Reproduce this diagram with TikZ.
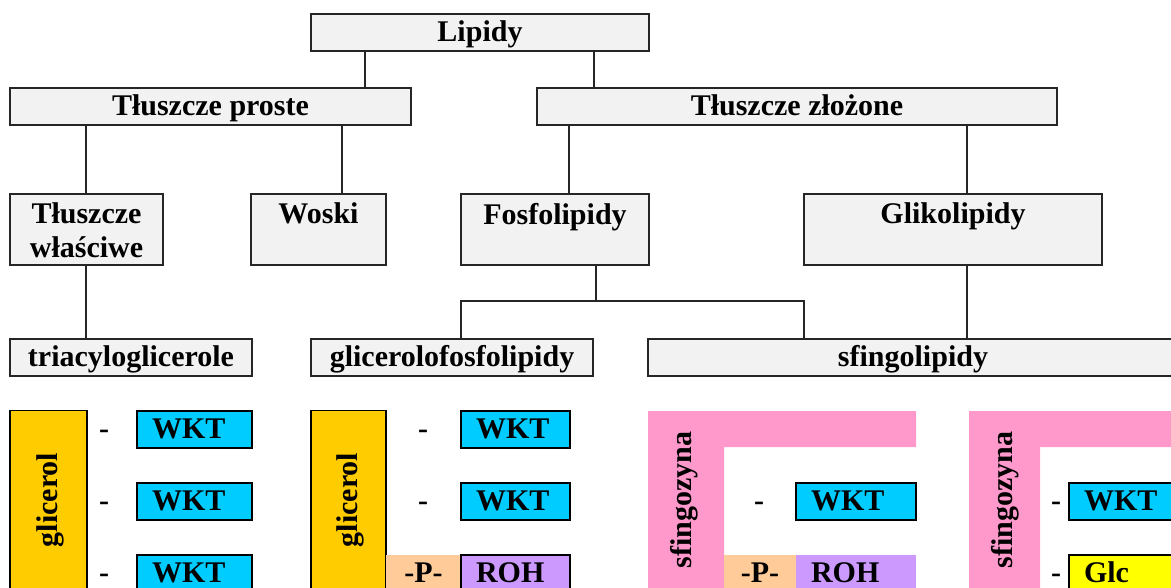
\documentclass[tikz,border=0pt]{standalone}
\usepackage{fontspec}
\setmainfont{Liberation Serif}
\definecolor{boxgray}{RGB}{242,242,242}
\definecolor{glic}{RGB}{255,204,0}
\definecolor{wkt}{RGB}{0,204,255}
\definecolor{pgrp}{RGB}{255,204,153}
\definecolor{roh}{RGB}{204,153,255}
\definecolor{sfing}{RGB}{255,153,204}
\definecolor{glc}{RGB}{255,255,0}
\begin{document}
\begin{tikzpicture}[x=1pt,y=-1pt,
  every node/.style={font=\bfseries\fontsize{30}{34}\selectfont, inner sep=0pt},
  hbox/.style={draw=black!85, fill=boxgray, line width=1.5pt, minimum height=37pt, text height=22.5pt, text depth=4.5pt},
  tbox/.style={draw=black!85, fill=boxgray, line width=1.5pt, minimum height=71pt},
  ttext/.style={anchor=north, align=center, inner ysep=9.5pt},
  conn/.style={line width=1.5pt, black!85},
  cbox/.style={draw=black, line width=1.3pt, minimum height=37pt, inner xsep=15pt, align=left, text height=22.5pt, text depth=4.5pt},
  pbox/.style={minimum height=37pt, text height=22.5pt, text depth=4.5pt},
  vbar/.style={draw=black, line width=1.3pt, rotate=90, minimum width=179pt, text height=22.5pt, text depth=4.5pt},
  vtext/.style={rotate=90, text height=22.5pt, text depth=4.5pt},
  dashlbl/.style={text height=22.5pt, text depth=4.5pt}
]
\useasboundingbox (0,0) rectangle (1171,588);
\clip (0,0) rectangle (1171,588);

% header boxes
\node[hbox, minimum width=338pt] (lipidy) at (480,32.5) {Lipidy};
\node[hbox, minimum width=401pt] (tp) at (210.5,106.5) {Tłuszcze proste};
\node[hbox, minimum width=520pt] (tz) at (797,106.5) {Tłuszcze złożone};

\node[tbox, minimum width=153pt] (tw) at (86.5,229.5) {};
\node[ttext] (twt) at (tw.north) {Tłuszcze\\właściwe};
\node[tbox, minimum width=135pt] (woski) at (318.5,229.5) {};
\node[ttext] (woskit) at (woski.north) {Woski};
\node[tbox, minimum width=188pt] (fosfo) at (555,229.5) {};
\node[ttext] (fosfot) at (fosfo.north) {Fosfolipidy};
\node[tbox, minimum width=298pt] (gliko) at (953,229.5) {};
\node[ttext] (glikot) at (gliko.north) {Glikolipidy};

\node[hbox, minimum width=242pt] (tri) at (131,357.5) {triacyloglicerole};
\node[hbox, minimum width=282pt] (gfl) at (452,357.5) {glicerolofosfolipidy};
\node[hbox, minimum width=530pt] (sfl) at (913,357.5) {sfingolipidy};

% connectors
\coordinate (a1) at (365,0);
\coordinate (a2) at (594,0);
\coordinate (b1) at (86,0);
\coordinate (b2) at (342,0);
\coordinate (c1) at (569,0);
\coordinate (c2) at (967,0);
\coordinate (fb) at (596,301);
\coordinate (bl) at (461,301);
\coordinate (br) at (804,301);
\draw[conn] (a1 |- lipidy.south) -- (a1 |- tp.north);
\draw[conn] (a2 |- lipidy.south) -- (a2 |- tz.north);
\draw[conn] (b1 |- tp.south) -- (b1 |- tw.north);
\draw[conn] (b2 |- tp.south) -- (b2 |- woski.north);
\draw[conn] (c1 |- tz.south) -- (c1 |- fosfo.north);
\draw[conn] (c2 |- tz.south) -- (c2 |- gliko.north);
\draw[conn] (b1 |- tw.south) -- (b1 |- tri.north);
\draw[conn] (fb |- fosfo.south) -- (fb);
\draw[conn] (bl |- gfl.north) -- (bl) -- (br) -- (br |- sfl.north);
\draw[conn] (c2 |- gliko.south) -- (c2 |- sfl.north);

% triacyloglicerole
\node[vbar, fill=glic, minimum height=77pt] (g1) at (48.5,500) {glicerol};
\node[dashlbl] (d11) at (104,429.5) {-};
\node[dashlbl] (d12) at (104,501.5) {-};
\node[dashlbl] (d13) at (104,573.5) {-};
\node[cbox, fill=wkt, text width=85pt] (w11) at (194.5,429.5) {WKT};
\node[cbox, fill=wkt, text width=85pt] (w12) at (194.5,501.5) {WKT};
\node[cbox, fill=wkt, text width=85pt] (w13) at (194.5,573.5) {WKT};

% glicerolofosfolipidy
\node[vbar, fill=glic, minimum height=75pt] (g2) at (348.5,500) {glicerol};
\node[dashlbl] (d21) at (423,429.5) {-};
\node[dashlbl] (d22) at (423,501.5) {-};
\node[cbox, fill=wkt, text width=79pt] (w21) at (515.5,429.5) {WKT};
\node[cbox, fill=wkt, text width=79pt] (w22) at (515.5,501.5) {WKT};
\node[pbox, fill=pgrp, minimum width=75pt] (p2) at (423.5,573.5) {-P-};
\node[cbox, fill=roh, text width=79pt] (r2) at (515.5,573.5) {ROH};

% sfingolipidy 1
\fill[sfing] (648,411) -- (916,411) -- (916,447) -- (724,447) -- (724,600) -- (648,600) -- cycle;
\node[vtext] (s1) at (682,500) {sfingozyna};
\node[dashlbl] (d31) at (759,501.5) {-};
\node[cbox, fill=wkt, text width=90pt] (w31) at (856,501.5) {WKT};
\node[pbox, fill=pgrp, minimum width=72pt] (p3) at (760,573.5) {-P-};
\node[pbox, fill=roh, inner xsep=15pt, text width=90pt, align=left] (r3) at (856,573.5) {ROH};

% sfingolipidy 2
\fill[sfing] (969,411) -- (1185,411) -- (1185,447) -- (1040,447) -- (1040,600) -- (969,600) -- cycle;
\node[vtext] (s2) at (1003,500) {sfingozyna};
\node[dashlbl] (d41) at (1056,501.5) {-};
\node[dashlbl] (d42) at (1056,573.5) {-};
\node[cbox, fill=wkt, text width=91pt] (w41) at (1129.5,501.5) {WKT};
\node[cbox, fill=glc, text width=91pt] (gl4) at (1129.5,573.5) {Glc};
\end{tikzpicture}
\end{document}
